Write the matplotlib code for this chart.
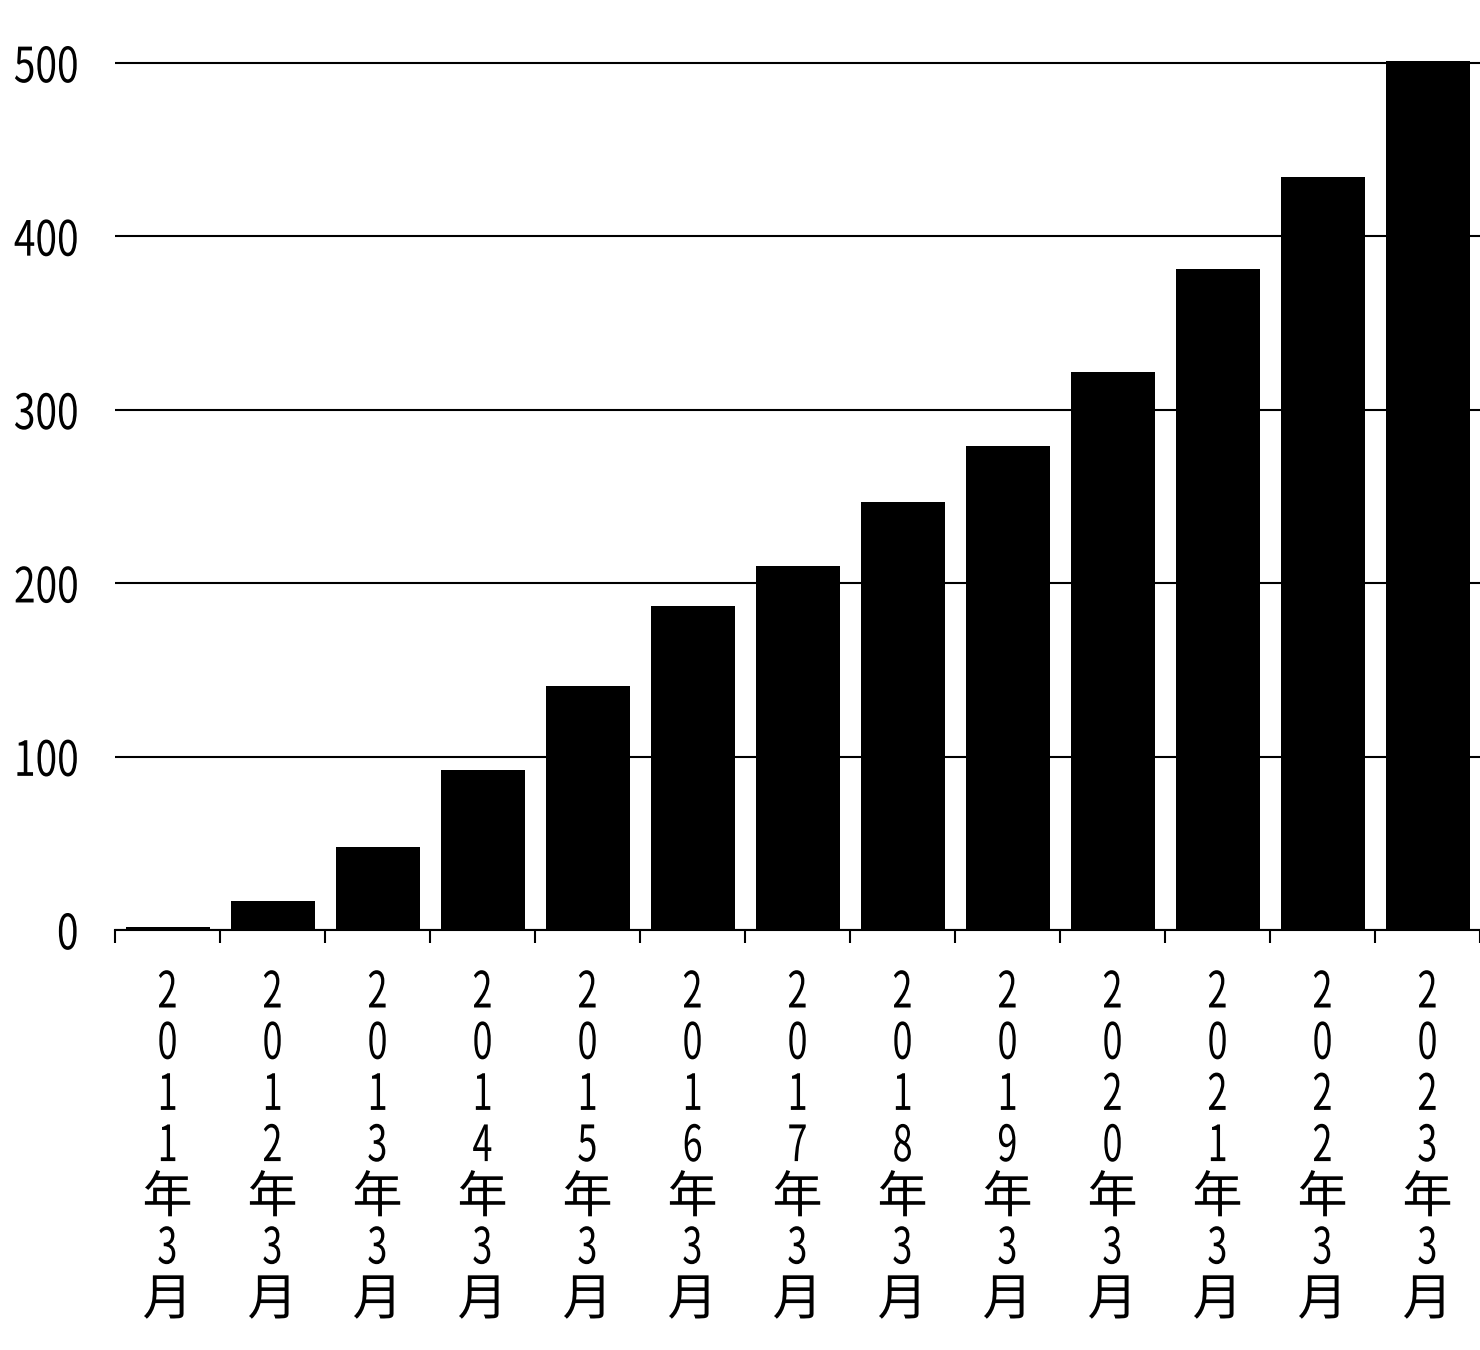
import matplotlib.pyplot as plt
from matplotlib.patheffects import AbstractPathEffect
from matplotlib.transforms import Affine2D
import numpy as np

# データ (各年3月時点)
years = ["2011", "2012", "2013", "2014", "2015", "2016", "2017",
         "2018", "2019", "2020", "2021", "2022", "2023"]
values = [2, 17, 48, 92, 141, 187, 210, 247, 279, 322, 381, 434, 501]
yticks = [0, 100, 200, 300, 400, 500]

fams = ["Noto Sans CJK JP", "DejaVu Sans"]


# 数字だけ横に細くする (元図は長体の数字)
class Narrow(AbstractPathEffect):
    def __init__(self, sx=0.7, anchor="center"):
        super().__init__()
        self.sx = sx
        self.anchor = anchor

    def draw_path(self, renderer, gc, tpath, affine, rgbFace=None):
        ext = tpath.get_extents()
        sx = self.sx
        if 75 < ext.width < 110:  # 漢字 (年, 月) はそのまま
            sx = 1.0
        cx = ext.x1 if self.anchor == "right" else (ext.x0 + ext.x1) / 2
        t = Affine2D().translate(-cx, 0).scale(sx, 1).translate(cx, 0)
        renderer.draw_path(gc, tpath, t + affine, rgbFace)


labels = ["\n".join(list(y) + ["年", "3", "月"]) for y in years]

fig = plt.figure(figsize=(14.8, 13.5), dpi=100)
ax = fig.add_axes([115 / 1480, 1 - 930 / 1350, 1 - 115 / 1480, (930 - 11) / 1350])

x = np.arange(len(years))
ax.bar(x, values, width=0.8, color="black", zorder=2)

ax.set_xlim(-0.5, len(years) - 0.5)
ax.set_ylim(0, 530)
ax.set_yticks(yticks)
ax.set_yticklabels([str(v) for v in yticks], family=fams, fontsize=35)
ax.yaxis.grid(True, color="black", linewidth=1.5, zorder=0)
ax.set_axisbelow(True)
ax.tick_params(axis="y", length=0, pad=26)

ax.set_xticks(x)
ax.set_xticklabels(labels, family=fams, fontsize=36, linespacing=0.98)
ax.set_xticks(np.arange(-0.5, len(years)), minor=True)
ax.tick_params(axis="x", which="major", length=0, pad=27)
ax.tick_params(axis="x", which="minor", length=9, width=1.5, direction="out")

for lab in ax.get_xticklabels():
    lab.set_path_effects([Narrow(0.72, "center")])
for lab in ax.get_yticklabels():
    lab.set_path_effects([Narrow(0.8, "right")])

for s in ["left", "right", "top"]:
    ax.spines[s].set_visible(False)
ax.spines["bottom"].set_linewidth(1.5)

fig.savefig("out.png", dpi=100)
